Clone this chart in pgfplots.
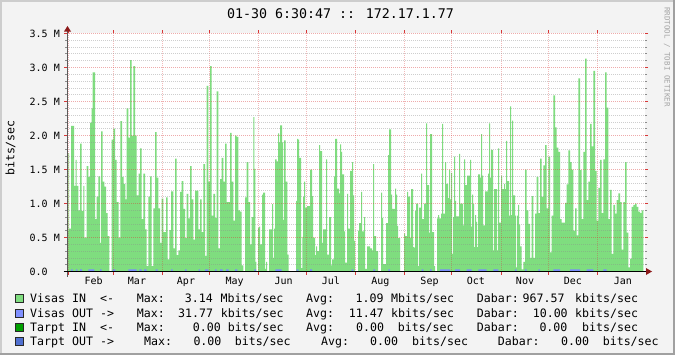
\documentclass[border=0pt]{standalone}
\usepackage{fontspec}
\setmainfont{DejaVu Sans Mono}
\usepackage{pgfplots}
\pgfplotsset{compat=1.18}
\usepackage{pgfplotstable}

\definecolor{bgc}{RGB}{243,243,243}
\definecolor{areac}{RGB}{127,221,127}
\definecolor{outc}{RGB}{120,140,250}
\definecolor{tinc}{RGB}{0,160,0}
\definecolor{toutc}{RGB}{80,112,208}
\definecolor{mgrid}{RGB}{215,55,55}
\definecolor{ngrid}{RGB}{140,140,140}
\definecolor{arrowc}{RGB}{140,25,25}
\definecolor{yaxc}{RGB}{90,90,90}
\definecolor{shadea}{RGB}{205,205,205}
\definecolor{shadeb}{RGB}{160,160,160}

% Visas IN (Mbits/sec), x = position along the time axis
\pgfplotstableread{
x y
66.7 0.60
68.3 1.74
69 0.63
71 2.14
74 1.26
75.7 1.64
76.7 1.26
78.3 0.90
80 1.88
81.7 0.89
83.3 1.26
84.3 0.50
86.7 1.55
88.3 1.39
90 2.19
91.7 2.40
92.7 2.93
95 0.77
96.7 1.10
98.3 1.40
100 0.42
101 2.06
102.7 1.32
104.3 1.25
106 0.86
107.7 0.52
109.3 0
111.7 1.94
113.3 2.10
115 1.64
116.7 1.02
118.7 0.50
120.3 2.21
122 1.39
123.7 1.29
125.3 1.06
126.7 2.40
128.3 1.97
130 3.11
131.7 2.00
133.3 3.02
135 2.00
136.7 1.12
138.7 1.44
140 1.81
141.7 0.77
143.3 1.44
145 0.62
146.7 0.08
148.3 1.10
150 1.40
151.7 0.08
153.3 0.93
155 2.05
156.7 1.38
158.3 0.93
160 0.42
161.7 1.07
163.3 0.58
166 1.09
167.7 0.18
169.3 0.61
171 1.18
173.3 0.34
175 1.66
176.7 0.24
178.3 0.31
180 1.17
181.7 1.33
183.3 0.92
185 0.49
186.7 1.14
188.3 0.78
190 1.55
191.7 1.06
193.3 0.47
195 1.19
198.3 0.62
200 1.06
201.7 0.58
203.3 1.58
205 0.23
206.7 2.73
208.3 1.32
210 3.02
211.7 0.82
213.3 1.14
215 0.79
216.7 2.65
218.3 0.34
220 1.36
221.7 1.67
223.3 1.32
225 1.88
226.7 1.02
230 2.04
231.7 1.32
233.3 0.75
235 2.00
236.7 1.98
238.3 0.90
240 0.88
241.7 0.09
243.3 0
245 1.09
246.7 1.61
248.3 1.02
250 0.40
251.7 0.80
253.3 2.27
254.3 1.51
255.3 0.14
256.3 0
258 0.64
259 0.66
260 0.40
262 1.13
263 1.16
265 0.04
266 0.14
267 0
269 0.62
272 0.99
273 0.20
274 0.63
275 1.65
276.5 1.62
278 2.03
279 1.90
280 2.15
282 1.90
283 0.76
284 1.93
285.5 1.32
287.3 0.25
288.5 0
296 1.04
297 1.95
298 1.94
299 1.67
301 0.05
302.3 0.51
303 1.10
304 1.32
305 0.94
307 0.96
310 1.50
312 1.11
313 0.50
315 0.24
316 0.37
317 0.30
319 1.86
320 1.77
322 0.42
323 0.62
326 1.65
327 0.25
329 0.80
331 0.09
332 0.18
334 1.40
335 1.95
337 1.22
339 1.15
340 1.87
341 1.76
342 1.43
344 0.59
345 0.13
347 1.14
348 0.63
350 1.48
352 1.61
353 1.12
354 0.45
355 0
358 0.60
359 0.71
361 1.17
362 0.59
364 0.80
365 0.04
367 0.37
370 0.34
372 0.31
373 1.58
374 0.52
376 0.30
378 0
381 1.16
382 0.79
383 0.11
386 0.71
388 1.71
389 2.09
391 1.13
392 0.92
395 1.22
396 1.13
397 0.67
398 0.49
400 0
404 0.56
405 0.52
407 1.17
408 1.10
410 0.50
411 1.21
413 0.36
414 0.35
415 0.89
416 1.00
418 0.08
419 0.94
421 1.44
422 0.77
424 1.00
426 2.18
427 1.27
429 0.57
430 2.02
432 0.58
434 0.08
435 0
437 0.78
438 0.83
439 0.78
441 0.85
442 2.17
443 0.85
445 1.61
446 1.29
448 1.08
449 1.50
450 1.06
451 1.45
452 0.26
453 0.80
454 1.69
455 1.04
456 0.81
459 1.73
460 1.00
463 0.68
464 1.65
465 1.27
467 1.41
470 1.64
471 0.66
472 1.13
473 0.99
474 0.36
475 0.83
476 0.73
477 0.36
478 1.43
480 1.38
481 2.02
482 1.41
483 0.68
485 1.18
488 1.44
489 2.18
490 1.38
491 1.79
493 0.31
494 1.21
497 0.31
498 1.81
499 0.72
501 1.41
502 1.21
504 1.29
505 1.21
506 1.92
507 1.33
509 0.82
510 2.43
511 0.83
512 2.22
513 1.12
515 0.82
516 0.06
517 0.82
518 0.98
519 0.69
520 0.37
521.7 0.03
523.3 0.14
525 1.50
526.7 0.90
528.3 0.70
530 0.20
531.7 1.11
533.3 0.20
535 0.85
536.7 1.39
538.3 0.86
540 1.66
541.7 1.10
543.3 1.56
545 1.86
546.7 0.93
548.3 1.69
550 0.28
551.7 0.82
553.3 2.59
555 2.12
556.7 1.82
558.3 1.76
560 0.77
561.7 0.72
565 1.01
566.7 1.28
568.3 1.78
570 1.61
571.7 1.50
573.3 0.60
575 0.93
576.7 0.53
578.3 2.84
580 1.49
581.7 0.77
583.3 1.76
585 3.13
586.7 1.05
588.3 1.32
590 2.17
591.7 1.84
593.3 2.95
595 1.48
596.7 0.75
598.3 1.23
600 1.64
601.7 0.86
603.3 1.65
605 2.93
606.7 2.41
608.3 0.77
610 1.20
611.7 0.26
613.3 0.98
615 0.85
616.7 1.05
618.3 1.15
620 1.02
621.7 0.32
623.3 1.02
625 1.61
626.7 0.57
628.3 0.06
630 0.19
631.7 0.95
633.3 0.98
635 1.00
636.7 0.95
638.3 0.88
640 0.86
641.7 0.90
643.3 0
}\visasin

% Visas OUT (Mbits/sec)
\pgfplotstableread{
x y
71 0.03
72.7 0
76 0.03
77.3 0
80 0.03
82 0
88.3 0.03
94.3 0
100 0.03
101.7 0
112.7 0.03
115.3 0
128.3 0.03
136.7 0
139.3 0.03
141.7 0
144 0.03
146.7 0
155.7 0.03
157.7 0
171 0.03
172.7 0
185 0.03
186.7 0
198.7 0.03
200 0
205 0.03
208.3 0
215 0.03
216.7 0
220 0.03
222.7 0
226 0.03
228.7 0
235 0.03
237.3 0
254.3 0.03
256 0
275.3 0.03
281.7 0
296.7 0.03
298.3 0
310 0.03
312 0
351.7 0.03
353.3 0
373.3 0.03
375 0
388.3 0.03
390 0
421.7 0.03
423.3 0
430 0.03
431.7 0
440 0.03
450 0
455 0.03
460 0
466.7 0.03
471.7 0
478.3 0.03
486.7 0
493.3 0.03
498.3 0
515 0.03
516.7 0
525 0.03
526.7 0
538.3 0.03
540 0
553.3 0.03
560 0
570 0.03
580 0
586.7 0.03
593.3 0
603.3 0.03
606.7 0
}\visasout

\begin{document}
\begin{tikzpicture}[x=1bp,y=1bp]
\fill[bgc] (0,0) rectangle (675,355);
\fill[shadea] (0,353) rectangle (675,355);
\fill[shadea] (0,0) rectangle (2,355);
\fill[shadeb] (0,0) rectangle (675,2);
\fill[shadeb] (673,0) rectangle (675,355);
\begin{axis}[
  at={(67bp,83.5bp)}, anchor=south west,
  scale only axis, width=578bp, height=238bp,
  xmin=67, xmax=645, ymin=0, ymax=3.5,
  axis line style={draw=none},
  axis background/.style={fill=white},
  axis on top,
  tick align=outside,
  major tick length=3bp, minor tick length=2bp,
  major tick style={draw=mgrid, line width=0.8bp},
  minor tick style={draw=ngrid, line width=0.8bp},
  ytick={0,0.5,1,1.5,2,2.5,3,3.5},
  yticklabels={0.0\hphantom{MM},0.5 M,1.0 M,1.5 M,2.0 M,2.5 M,3.0 M,3.5 M},
  minor ytick={0.1,0.2,0.3,0.4,0.6,0.7,0.8,0.9,1.1,1.2,1.3,1.4,1.6,1.7,1.8,1.9,2.1,2.2,2.3,2.4,2.6,2.7,2.8,2.9,3.1,3.2,3.3,3.4},
  xtick={68.5,113.5,162.5,209.5,258.5,306.5,355.5,404.5,451.5,501.5,548.5,597.5},
  xticklabels={},
  extra x ticks={93.7,137,186,234.7,283.7,330.8,380.3,429.5,475.8,525,572.8,622.8},
  extra x tick labels={Feb,Mar,Apr,May,Jun,Jul,Aug,Sep,Oct,Nov,Dec,Jan},
  extra x tick style={grid=none, major tick length=0pt,
     xticklabel style={anchor=base, inner sep=0pt, yshift=-13bp}},
  ymajorgrids, yminorgrids, xmajorgrids,
  major grid style={draw=mgrid, opacity=0.42, dash pattern=on 1bp off 1bp, line width=1bp},
  minor grid style={draw=ngrid, opacity=0.42, dash pattern=on 1bp off 1bp, line width=0.8bp},
  x grid style={dash phase=0.5bp, draw=mgrid, opacity=0.34},
  yticklabel style={font=\fontsize{10bp}{12bp}\selectfont, anchor=east, inner sep=0pt, xshift=-4bp},
  xticklabel style={font=\fontsize{10bp}{12bp}\selectfont},
]
\addplot[const plot, fill=areac, draw=none] table[x=x,y=y]{\visasin} \closedcycle;
\addplot[const plot, fill=outc, draw=none] table[x=x,y=y]{\visasout} \closedcycle;
\end{axis}
% axis lines and arrows
\draw[yaxc, line width=1bp] (67.5,78.5) -- (67.5,324);
\fill[arrowc] (64,323.5) -- (71,323.5) -- (67.5,329) -- cycle;
\draw[black, line width=1.2bp] (63.5,83.5) -- (646.5,83.5);
\fill[arrowc] (646,80) -- (646,87) -- (652,83.5) -- cycle;
% title
\node[anchor=base, inner sep=0pt, font=\fontsize{13.3bp}{15bp}\selectfont] at (340.5,{355-18.3}) {01-30 6:30:47 :: 172.17.1.77};
% y label
\node[rotate=90, inner sep=0pt, font=\fontsize{11.6bp}{13bp}\selectfont] at (10.5,{355-148}) {bits/sec};
% watermark
\node[rotate=-90, inner sep=0pt, text={rgb,255:red,165;green,165;blue,165}, font=\fontsize{7.5bp}{9bp}\selectfont] at (667,{355-57}) {RRDTOOL / TOBI OETIKER};
% legend
\tikzset{lg/.style={anchor=base west, inner sep=0pt, font=\fontsize{11.6bp}{13bp}\selectfont}}
\filldraw[fill=areac, draw={rgb,255:red,40;green,40;blue,40}, line width=0.8bp] (15,52.3) rectangle (23,60.3);
\filldraw[fill={rgb,255:red,128;green,144;blue,255}, draw={rgb,255:red,40;green,40;blue,40}, line width=0.8bp] (15,38) rectangle (23,46);
\filldraw[fill=tinc, draw={rgb,255:red,40;green,40;blue,40}, line width=0.8bp] (15,24) rectangle (23,32);
\filldraw[fill=toutc, draw={rgb,255:red,40;green,40;blue,40}, line width=0.8bp] (15,9.7) rectangle (23,17.7);
% row 1
\node[lg] at (30,52.3) {Visas};
\node[lg] at (72,52.3) {IN};
\node[lg] at (100,52.3) {<-};
\node[lg] at (136.7,52.3) {Max:};
\node[lg] at (184.7,52.3) {3.14};
\node[lg] at (220.4,52.3) {Mbits/sec};
\node[lg] at (306,52.3) {Avg:};
\node[lg] at (355.4,52.3) {1.09};
\node[lg] at (391,52.3) {Mbits/sec};
\node[lg] at (476.7,52.3) {Dabar:};
\node[lg] at (522.5,52.3) {967.57};
\node[lg] at (575,52.3) {kbits/sec};
% row 2
\node[lg] at (30,38) {Visas};
\node[lg] at (72,38) {OUT};
\node[lg] at (100,38) {->};
\node[lg] at (136.7,38) {Max:};
\node[lg] at (178,38) {31.77};
\node[lg] at (220.6,38) {kbits/sec};
\node[lg] at (306,38) {Avg:};
\node[lg] at (348.6,38) {11.47};
\node[lg] at (391,38) {kbits/sec};
\node[lg] at (476.7,38) {Dabar:};
\node[lg] at (532.6,38) {10.00};
\node[lg] at (575,38) {kbits/sec};
% row 3
\node[lg] at (30,24) {Tarpt};
\node[lg] at (72,24) {IN};
\node[lg] at (100,24) {<-};
\node[lg] at (136.7,24) {Max:};
\node[lg] at (192.6,24) {0.00};
\node[lg] at (227.6,24) {bits/sec};
\node[lg] at (306,24) {Avg:};
\node[lg] at (356,24) {0.00};
\node[lg] at (397.6,24) {bits/sec};
\node[lg] at (476.7,24) {Dabar:};
\node[lg] at (539.3,24) {0.00};
\node[lg] at (582,24) {bits/sec};
% row 4
\node[lg] at (30,9.7) {Tarpt};
\node[lg] at (72,9.7) {OUT};
\node[lg] at (100,9.7) {->};
\node[lg] at (144,9.7) {Max:};
\node[lg] at (193.3,9.7) {0.00};
\node[lg] at (234.6,9.7) {bits/sec};
\node[lg] at (321,9.7) {Avg:};
\node[lg] at (370,9.7) {0.00};
\node[lg] at (412,9.7) {bits/sec};
\node[lg] at (497.6,9.7) {Dabar:};
\node[lg] at (561,9.7) {0.00};
\node[lg] at (602.6,9.7) {bits/sec};
\end{tikzpicture}
\end{document}
